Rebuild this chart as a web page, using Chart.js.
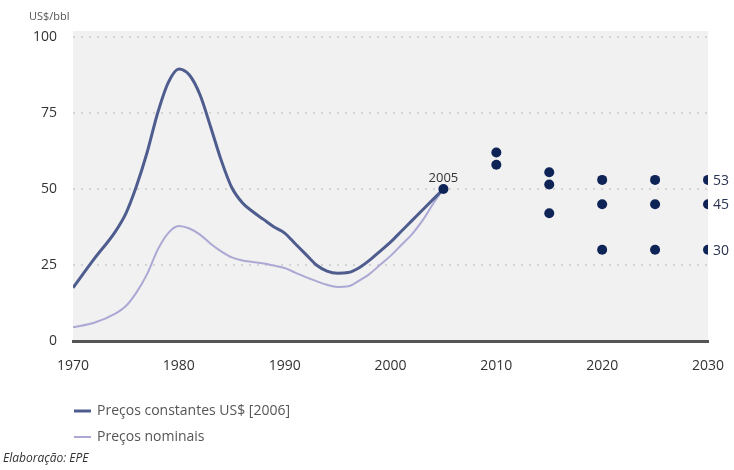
<!DOCTYPE html>
<html lang="pt">
<head>
<meta charset="utf-8">
<title>Preços do petróleo</title>
<script src="https://cdn.jsdelivr.net/npm/chart.js@4.4.1/dist/chart.umd.min.js"></script>
<style>
  html, body { margin: 0; padding: 0; background: #ffffff; }
  #wrap { position: relative; width: 734px; height: 470px; }
  canvas { display: block; }
</style>
</head>
<body>
<div id="wrap"><canvas id="chart" width="734" height="470"></canvas></div>
<script>
// Historical prices, US$/bbl
const histYears = [1970, 1972, 1974, 1975, 1976, 1977, 1978, 1979, 1980, 1981, 1982, 1983, 1984, 1985,
                   1986, 1987, 1988, 1989, 1990, 1991, 1992, 1993, 1994, 1995, 1996, 1997, 1998, 1999,
                   2000, 2001, 2002, 2003, 2004, 2005];
const constantPrices = [17.5, 27, 36, 42, 51, 62, 75, 85, 89.5, 87.5, 81, 70.5, 59.5, 50.5,
                        45.5, 42.5, 40, 37.5, 35.5, 32, 28.5, 25, 23, 22.3, 22.5, 24, 26.5, 29.5,
                        32.5, 36, 39.5, 43, 46.5, 50];
const nominalPrices = [4.5, 6, 9, 11.5, 16, 22, 30, 35.5, 37.8, 37, 35, 32, 29.5, 27.5,
                       26.5, 26, 25.5, 24.8, 24, 22.5, 21, 19.7, 18.5, 17.8, 18, 19.8, 22, 25,
                       28, 31.5, 35, 39.5, 45, 50];

// Base year and scenario projections
const baseYear = 2005;
const baseValue = 50;
const scenarioYears  = [2010, 2010, 2015, 2015, 2015, 2020, 2020, 2020, 2025, 2025, 2025, 2030, 2030, 2030];
const scenarioValues = [62, 58, 55.5, 51.5, 42, 53, 45, 30, 53, 45, 30, 53, 45, 30];
const endLabels = [53, 45, 30];

// Axis ticks
const xTicks = [1970, 1980, 1990, 2000, 2010, 2020, 2030];
const yTicks = [0, 25, 50, 75, 100];

const seriesNames = ['Preços constantes US$ [2006]', 'Preços nominais'];
const unitLabel = 'US$/bbl';
const sourceNote = 'Elaboração: EPE';

const FONT = '"Open Sans", "Noto Sans", sans-serif';
const DARK = '#4e5d8e';
const LIGHT = '#aba8d4';
const NAVY = '#0e2356';

const toPoints = (xs, ys) => xs.map((x, i) => ({ x: x, y: ys[i] }));

// Plot background, annotations, legend and note
const decorations = {
  id: 'decorations',
  beforeDraw(chart) {
    const { ctx, chartArea: a } = chart;
    ctx.save();
    ctx.fillStyle = '#f1f1f1';
    ctx.fillRect(a.left, a.top - 6, a.right - a.left, a.bottom - a.top + 6);
    ctx.restore();
  },
  afterDraw(chart) {
    const { ctx } = chart;
    const xs = chart.scales.x, ys = chart.scales.y;
    ctx.save();
    // unit
    ctx.fillStyle = '#555';
    ctx.font = '11px ' + FONT;
    ctx.textAlign = 'left';
    ctx.textBaseline = 'middle';
    ctx.fillText(unitLabel, 29, 17);
    // base year label
    ctx.fillStyle = '#333';
    ctx.font = '13px ' + FONT;
    ctx.textAlign = 'center';
    ctx.textBaseline = 'bottom';
    ctx.fillText(String(baseYear), xs.getPixelForValue(baseYear), ys.getPixelForValue(baseValue) - 4);
    // end-of-horizon values
    ctx.font = '14px ' + FONT;
    ctx.fillStyle = '#2a3350';
    ctx.textAlign = 'left';
    ctx.textBaseline = 'middle';
    const lastX = xs.getPixelForValue(scenarioYears[scenarioYears.length - 1]);
    endLabels.forEach(v => ctx.fillText(String(v), lastX + 5, ys.getPixelForValue(v) + 1));
    // legend
    const items = [[DARK, 3], [LIGHT, 2]];
    items.forEach((it, i) => {
      const y = 411 + i * 26;
      ctx.strokeStyle = it[0];
      ctx.lineWidth = it[1];
      ctx.beginPath();
      ctx.moveTo(74, y);
      ctx.lineTo(91, y);
      ctx.stroke();
      ctx.fillStyle = '#555';
      ctx.font = '14px ' + FONT;
      ctx.textAlign = 'left';
      ctx.textBaseline = 'middle';
      ctx.fillText(seriesNames[i], 97, y);
    });
    // note
    ctx.fillStyle = '#333';
    ctx.font = 'italic 12px ' + FONT;
    ctx.textBaseline = 'middle';
    ctx.fillText(sourceNote, 3, 459);
    ctx.restore();
  }
};

new Chart(document.getElementById('chart'), {
  type: 'line',
  plugins: [decorations],
  data: {
    datasets: [
      {
        label: seriesNames[0],
        data: toPoints(histYears, constantPrices),
        borderColor: DARK,
        borderWidth: 3,
        pointRadius: 0,
        cubicInterpolationMode: 'monotone',
        order: 2
      },
      {
        label: seriesNames[1],
        data: toPoints(histYears, nominalPrices),
        borderColor: LIGHT,
        borderWidth: 2,
        pointRadius: 0,
        cubicInterpolationMode: 'monotone',
        order: 3
      },
      {
        type: 'scatter',
        label: 'Cenários',
        data: toPoints([baseYear].concat(scenarioYears), [baseValue].concat(scenarioValues)),
        backgroundColor: NAVY,
        borderColor: NAVY,
        pointRadius: 5,
        borderWidth: 0,
        order: 1
      }
    ]
  },
  options: {
    responsive: false,
    animation: false,
    layout: { padding: { left: 0, right: 26, top: 37, bottom: 89 } },
    plugins: { legend: { display: false }, tooltip: { enabled: false } },
    scales: {
      x: {
        type: 'linear',
        min: 1970,
        max: 2030,
        afterFit(s) { s.height = 40; s.paddingLeft = 0; s.paddingRight = 0; },
        afterBuildTicks(s) { s.ticks = xTicks.map(v => ({ value: v })); },
        ticks: {
          callback: v => String(v),
          color: '#333',
          font: { family: FONT, size: 14 },
          padding: 17,
          maxRotation: 0
        },
        grid: { display: false, drawTicks: false },
        border: { display: true, color: '#555', width: 3 }
      },
      y: {
        min: 0,
        max: 100,
        afterFit(s) { s.width = 73; s.paddingTop = 0; s.paddingBottom = 0; },
        afterBuildTicks(s) { s.ticks = yTicks.map(v => ({ value: v })); },
        ticks: {
          color: '#333',
          font: { family: FONT, size: 14 },
          padding: 16
        },
        grid: {
          drawTicks: false,
          color: c => c.tick && c.tick.value === 0 ? 'rgba(0,0,0,0)' : '#d3d3d3',
          lineWidth: 2
        },
        border: { display: false, dash: [2, 6] }
      }
    }
  }
});
</script>
</body>
</html>
